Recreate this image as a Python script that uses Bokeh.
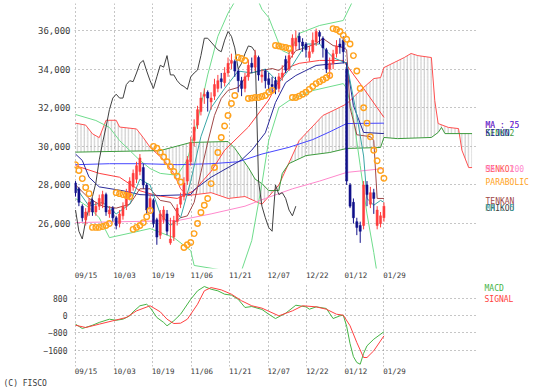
from bokeh.plotting import figure
from bokeh.layouts import column, row
from bokeh.models import Range1d, FixedTicker, NumeralTickFormatter, ColumnDataSource
from bokeh.core.properties import value
from bokeh.embed import file_html
from bokeh.resources import INLINE

# ---------------- data ----------------
date_labels = ["09/15", "10/03", "10/19", "11/06", "11/21", "12/07", "12/22", "01/12", "01/29"]

opens = [28100, 27800, 26900, 26200, 26600, 27200, 26600, 26900, 27000, 27500,
         26500, 26800, 26300, 26000, 26400, 26900, 27400, 27900, 28300, 28700,
         28900, 28000, 26800, 27200, 26200, 25400, 26200, 26500, 25000, 25300,
         26100, 27000, 27400, 28200, 29200, 30300, 31100, 31800, 32600, 32800,
         32300, 32600, 33000, 33500, 33300, 33800, 34300, 34400, 33900, 33400,
         33000, 33600, 34300, 34100, 34600, 33600, 33900, 33500, 33200, 33400,
         33000, 33600, 34500, 34000, 34800, 35200, 35700, 35400, 35300, 34600,
         34900, 35400, 35900, 35600, 35000, 34000, 34300, 34800, 35300, 35500,
         34000, 28000, 27100, 26100, 25900, 25900, 28000, 27000, 27600, 25900,
         26000, 26300]
closes = [27600, 27100, 26300, 26600, 27100, 26600, 26900, 27300, 27500, 26600,
          26700, 26300, 25900, 26500, 26900, 27600, 28200, 28600, 29000, 29400,
          28000, 26700, 27300, 26000, 25300, 26500, 26700, 25600, 25200, 26150,
          26800, 27400, 28100, 29300, 30200, 31000, 31900, 32500, 32700, 32500,
          32500, 33200, 33400, 33350, 33800, 34300, 34450, 33900, 33400, 33000,
          33600, 34200, 34100, 34700, 33700, 33700, 33400, 33200, 33100, 32950,
          33600, 33800, 33950, 34700, 35600, 35600, 35400, 35200, 35000, 34900,
          35500, 35950, 35700, 35100, 34000, 34300, 34800, 35200, 35150, 34900,
          28200, 26900, 26300, 25800, 25600, 28000, 27500, 27600, 27300, 26700,
          26400, 26900]
highs = [28200, 27900, 27000, 26800, 27300, 27300, 27100, 27500, 27700, 27600,
         26900, 26900, 26400, 26700, 27100, 27800, 28400, 28800, 29200, 29600,
         29100, 28100, 27500, 27300, 26300, 26700, 26900, 26700, 26300, 26400,
         27000, 27600, 28400, 29500, 30500, 31400, 32100, 32800, 33000, 32900,
         32800, 33500, 33700, 33800, 34100, 34600, 34800, 34500, 34000, 33600,
         33800, 34500, 34600, 35000, 34700, 34000, 34000, 33800, 33600, 33600,
         33800, 34200, 34700, 35000, 35800, 36000, 35900, 35600, 35400, 35200,
         35900, 36100, 36000, 35700, 35100, 34600, 35000, 35500, 35600, 35700,
         34300, 28100, 27300, 26300, 26100, 28200, 28200, 27900, 27800, 26900,
         26600, 27100]
lows = [27400, 26900, 26100, 25900, 26400, 26400, 26400, 26700, 26800, 26400,
        26300, 26100, 25700, 25800, 26200, 26700, 27200, 27700, 28100, 28500,
        27800, 26500, 26600, 25800, 24900, 25200, 26000, 25400, 24900, 25100,
        25900, 26800, 27200, 28000, 29000, 30000, 30900, 31600, 32200, 31800,
        31900, 32400, 32800, 33000, 33100, 33600, 34000, 33600, 32800, 32600,
        32800, 33400, 33800, 33900, 33400, 33300, 33000, 32900, 32800, 32700,
        32800, 33400, 33800, 33900, 34600, 35000, 35000, 34900, 34600, 34400,
        34800, 35200, 35300, 34600, 33800, 33500, 34000, 34600, 34800, 34300,
        28000, 26800, 26000, 25400, 25000, 25700, 26900, 26800, 26500, 25700,
        25800, 26100]

ma5_x = [0, 4, 8, 12, 16, 19, 22, 25, 28, 31, 34, 37, 40, 44, 48, 52, 56, 60, 64, 68, 72, 76, 80, 83, 85, 86, 88, 90, 91]
ma5 = [27900, 26900, 27100, 26500, 27000, 28300, 28000, 26500, 25900, 26300, 28200, 30500, 32000, 33000, 33900,
       33800, 34000, 33300, 34200, 35300, 35300, 34600, 34300, 31600, 29500, 27300, 26950, 27200, 27100]

ma_red_x = [0, 7, 13, 19, 24, 30, 35, 40, 44, 51, 57, 60, 63, 66, 72, 79, 85, 91]
ma_red = [29000, 28600, 28400, 27700, 27450, 27300, 27700, 28700, 29800, 31000, 32400, 33400, 34100, 34300,
          34450, 34450, 33000, 31500]

ma_blue_x = [0, 10, 20, 30, 40, 48, 55, 63, 70, 75, 80, 91]
ma_blue = [29050, 29100, 29100, 29050, 29100, 29200, 29600, 29950, 30350, 30750, 31180, 31200]

ma200_x = [0, 30, 40, 50, 56, 64, 72, 80, 91]
ma200 = [26050, 26150, 26500, 26900, 27300, 27800, 28200, 28650, 28850]

tenkan_x = [0, 4, 8, 12, 16, 19, 22, 25, 28, 31, 33, 35, 37, 39, 41, 43, 45, 48, 51, 55, 58, 60, 61, 63, 65,
            68, 71, 73, 76, 79, 80, 81, 83, 87, 88, 89, 91]
tenkan = [28000, 27300, 26900, 26800, 27000, 27800, 27800, 27200, 27100, 26300, 26400, 27100, 28650, 30200,
          31600, 32480, 32900, 33050, 33770, 33930, 34030, 33930, 34080, 34450, 34960, 35120, 35330, 35590,
          35220, 35120, 35000, 32000, 30600, 30500, 30300, 27300, 27300]

kijun_x = [0, 2, 4, 7, 14, 19, 25, 34, 35, 40, 45, 49, 52, 56, 59, 62, 65, 71, 80, 82, 85, 91]
kijun = [29600, 29270, 28400, 27900, 27700, 27500, 27450, 27500, 27750, 28400, 28900, 29300, 29800, 30700,
         32270, 33300, 33670, 34190, 34340, 32110, 30720, 30660]

senkou1_x = [0, 3, 5, 7, 9, 12, 13, 18, 20, 22, 26, 29, 31, 33, 40, 45, 50, 55, 60, 66, 73, 76, 80, 84, 88,
             90, 91, 94, 97, 99, 101, 105, 106, 107, 110, 113, 114, 116, 117]
senkou1 = [31200, 31100, 30650, 30450, 31350, 31350, 31000, 30900, 30450, 29950, 29300, 28600, 27800, 27450,
           27600, 27300, 27400, 27000, 28000, 30300, 31600, 31850, 32200, 32890, 33510, 33560, 34080, 34340,
           34600, 34810, 34700, 34600, 32370, 31180, 30980, 30920, 29800, 28900, 28900]

senkou2_x = [0, 25, 34, 45, 47, 51, 53, 55, 57, 60, 61, 63, 68, 75, 80, 90, 91, 95, 105, 107, 108, 109, 117]
senkou2 = [29700, 29780, 30200, 30250, 29900, 28900, 28300, 28070, 27710, 27710, 28590, 29110, 29520, 29680,
           29890, 29940, 30460, 30400, 30460, 30720, 30980, 30660, 30660]

bb_up_x = [0, 6, 10, 13, 19, 22, 25, 30, 33, 36, 39, 42, 45, 47, 50, 52, 54, 55, 57, 60, 61, 63, 66, 72, 79,
           82, 85]
bb_up = [31650, 31340, 30980, 30300, 29270, 28850, 28600, 28500, 29300, 31300, 33700, 35700, 36900, 37500,
         38600, 38600, 37500, 37100, 36670, 35330, 34960, 34800, 35850, 36260, 36520, 37600, 38600]
bb_lo_x = [0, 4, 7, 10, 17, 22, 29, 34, 35, 44, 49, 52, 55, 57, 60, 63, 70, 79, 80, 82, 84, 86, 88, 89]
bb_lo = [27300, 26830, 26300, 25270, 25540, 25740, 25270, 24600, 23830, 23570, 23570, 25120, 28070, 30300,
         32010, 32370, 32890, 33250, 33000, 31500, 29000, 26500, 24500, 23400]

sar_x = [0, 1, 2, 3, 4,
         5, 6, 7, 8, 9, 10,
         12, 13, 14, 15, 16,
         17, 18, 19, 20, 21, 22,
         23, 24, 25, 26, 27, 28, 29, 30, 31,
         32, 33, 34, 35, 36, 37, 38, 39, 40, 41, 42, 43, 44, 45, 46, 47,
         48, 49, 50,
         51, 52, 53, 54, 55, 56, 57, 58,
         59, 60, 61, 62, 63,
         64, 65, 66, 67, 68, 69, 70, 71, 72, 73, 74, 75,
         76, 77, 78, 79, 80, 81, 82, 83, 84, 85, 86, 87, 88, 89, 90, 91]
sar = [29050, 28750, 28330, 27870, 27550,
       25800, 25800, 25800, 25850, 25900, 26000,
       27600, 27550, 27500, 27450, 27400,
       25700, 25800, 25900, 26050, 26350, 26680,
       30000, 29900, 29700, 29450, 29200, 28950, 28700, 28450, 28150,
       24760, 24900, 25020, 25480, 26000, 26570, 26950, 27300, 28070, 28900, 29680, 30460, 31050, 31600, 32220,
       32630,
       34600, 34550, 34450,
       32480, 32500, 32530, 32530, 32580, 32630, 32800, 32900,
       35220, 35200, 35150, 35120, 35070,
       32530, 32530, 32600, 32700, 32800, 32950, 33100, 33250, 33350, 33450, 33550, 33670,
       36100, 36050, 35950, 35750, 35550, 35300, 34700, 33900, 33000, 32000, 31200, 30500, 29800, 29250,
       28750, 28350]

macd_x = [0, 2, 5, 7, 10, 12, 14, 16, 17, 19, 21, 22, 24, 26, 27, 29, 31, 34, 36, 38, 40, 42, 44, 46, 48, 50,
          52, 55, 57, 59, 62, 65, 68, 69, 71, 74, 76, 78, 79, 80, 81, 82, 83, 84, 85, 86, 88, 91]
macd = [-400, -600, -450, -320, -170, -220, -170, -15, 170, 450, 520, 370, -90, -320, -475, -245, 60, 750,
        1140, 1340, 1215, 1140, 985, 940, 750, 370, 415, 280, 60, -140, 105, 475, 400, 290, 400, 325, -140,
        -15, 15, -500, -1300, -1900, -2170, -2250, -1750, -1400, -1095, -750]
signal_x = [0, 3, 7, 11, 15, 18, 22, 25, 27, 29, 31, 33, 36, 38, 40, 43, 46, 49, 52, 55, 60, 64, 67, 71, 74,
            77, 79, 81, 83, 85, 86, 88, 91]
signal = [-450, -555, -400, -245, -90, 215, 450, 170, -170, -370, -355, -170, 520, 1140, 1290, 1185, 985, 680,
          450, 340, -15, 215, 450, 400, 290, 60, 15, -475, -1250, -1940, -1940, -1630, -940]

price_ticks = [26000, 28000, 30000, 32000, 34000, 36000]
macd_ticks = [-1600, -800, 0, 800]

legend_texts = ["MA : 75", "MA : 25", "SENKO2", "KIJUN", "SENKO1", "MA : 200", "PARABOLIC",
                "TENKAN", "CHIKOU", "MA : 5", "MACD", "SIGNAL"]

# ---------------- styling ----------------
N = len(closes)
bars = list(range(N))
SHIFT = 26
step = (N - 1) / 8
date_pos = [k * step for k in range(len(date_labels))]
LABEL_OFF = 3.1                       # date labels start at their grid line
label_pos = [d + LABEL_OFF for d in date_pos]

MONO = "DejaVu Sans Mono"
TXT = "#3a3a3a"
GRID = "#8c8c8c"
UP = "#ff3c3c"
DOWN = "#10108a"
C_RED = "#ff4040"
C_BLUE = "#4646ff"
C_MA200 = "#ff88cc"
C_MA5 = "#3aa6a6"
C_S1 = "#ff5050"
C_S2 = "#3c9a3c"
C_KIJUN = "#2a2a9a"
C_TENKAN = "#a04848"
C_CHIKOU = "#404040"
C_BB = "#6fdc8c"
C_SAR = "#ffa21c"
C_MACD = "#46b446"
C_SIG = "#ff4040"

xr = Range1d(-0.3, 118.9)


def style(p, yticks):
    p.outline_line_color = None
    p.background_fill_color = "white"
    p.border_fill_color = "white"
    p.xgrid.ticker = FixedTicker(ticks=date_pos)
    p.ygrid.ticker = FixedTicker(ticks=yticks)
    for g in (p.xgrid, p.ygrid):
        g.grid_line_color = GRID
        g.grid_line_dash = "1 3"
        g.grid_line_width = 1
    p.yaxis.ticker = FixedTicker(ticks=yticks)
    for ax in (p.xaxis, p.yaxis):
        ax.axis_line_color = None
        ax.major_tick_line_color = None
        ax.minor_tick_line_color = None
        ax.major_tick_out = 0
        ax.major_tick_in = 0
        ax.minor_tick_out = 0
        ax.minor_tick_in = 0
        ax.major_label_text_font = MONO
        ax.major_label_text_color = TXT
    p.xaxis.ticker = FixedTicker(ticks=label_pos)
    p.xaxis.major_label_overrides = {t: lab for t, lab in zip(label_pos, date_labels)}
    p.xaxis.major_label_text_font_size = "7.5px"


# ---------------- main panel ----------------
p1 = figure(frame_width=404, frame_height=265, x_range=xr, y_range=Range1d(23672, 37399),
            output_backend="svg", toolbar_location=None,
            min_border_left=74, min_border_right=0, min_border_top=3, min_border_bottom=12)
style(p1, price_ticks)
p1.yaxis.formatter = NumeralTickFormatter(format="0,0")
p1.yaxis.major_label_text_font_size = "9px"
p1.yaxis.major_label_standoff = 4
p1.xaxis.major_label_standoff = 2

cloud_x = senkou1_x + senkou2_x[::-1]
cloud_y = senkou1 + senkou2[::-1]
p1.patch(cloud_x, cloud_y, fill_alpha=0, line_alpha=0,
         hatch_pattern="vertical_line", hatch_color="#b4b4b4", hatch_scale=3.4, hatch_weight=0.8)

p1.line(senkou1_x, senkou1, color=C_S1, line_width=1)
p1.line(senkou2_x, senkou2, color=C_S2, line_width=1)
p1.line(bb_up_x, bb_up, color=C_BB, line_width=1)
p1.line(bb_lo_x, bb_lo, color=C_BB, line_width=1)
p1.line(ma200_x, ma200, color=C_MA200, line_width=1)
p1.line(ma_blue_x, ma_blue, color=C_BLUE, line_width=1)
p1.line(ma_red_x, ma_red, color=C_RED, line_width=1)
p1.line(kijun_x, kijun, color=C_KIJUN, line_width=1)
p1.line(tenkan_x, tenkan, color=C_TENKAN, line_width=1)
p1.line(ma5_x, ma5, color=C_MA5, line_width=1)
p1.line([b - SHIFT for b in bars[SHIFT:]], closes[SHIFT:], color=C_CHIKOU, line_width=1)

up = [i for i in bars if closes[i] >= opens[i]]
dn = [i for i in bars if closes[i] < opens[i]]
for sel, col in ((up, UP), (dn, DOWN)):
    p1.segment(x0=sel, y0=[lows[i] for i in sel], x1=sel, y1=[highs[i] for i in sel], color=col, line_width=1)
    p1.vbar(x=sel, width=0.62, top=[max(opens[i], closes[i]) for i in sel],
            bottom=[min(opens[i], closes[i]) for i in sel], fill_color=col, line_color=col, line_width=0.5)

p1.scatter(sar_x, sar, marker="circle", size=5.5, fill_color=None, line_color=C_SAR, line_width=1.4)

# ---------------- MACD panel ----------------
p2 = figure(frame_width=404, frame_height=84, x_range=xr, y_range=Range1d(-2356, 1525),
            output_backend="svg", toolbar_location=None,
            min_border_left=74, min_border_right=0, min_border_top=0, min_border_bottom=10)
style(p2, macd_ticks)
p2.yaxis.major_label_text_font_size = "8px"
p2.yaxis.major_label_standoff = 7
p2.xaxis.major_label_standoff = 0
p2.line(macd_x, macd, color=C_MACD, line_width=1)
p2.line(signal_x, signal, color=C_SIG, line_width=1)

# ---------------- legend column (right margin) ----------------
leg = figure(width=58, height=374, x_range=Range1d(478, 536), y_range=Range1d(374, 0),
             output_backend="svg", toolbar_location=None, min_border=0,
             x_axis_location=None, y_axis_location=None)
leg.grid.visible = False
leg.outline_line_color = None
leg_src = ColumnDataSource(dict(
    x=[485, 485, 485, 485, 485, 485, 485, 485, 485, 485, 484, 484],
    y=[125, 125, 133, 133, 169, 169, 182, 201, 208, 208, 288, 299],
    text=legend_texts,
    color=[C_RED, C_BLUE, C_S2, C_KIJUN, C_S1, C_MA200, C_SAR, C_TENKAN, C_CHIKOU, C_MA5, C_MACD, C_SIG],
))
leg.text(x="x", y="y", text="text", text_color="color", source=leg_src, text_font=value(MONO),
         text_font_size=value("8px"), text_baseline="middle", text_align="left")

# ---------------- footer (copyright) ----------------
foot = figure(width=536, height=15, x_range=Range1d(0, 536), y_range=Range1d(389, 374),
              output_backend="svg", toolbar_location=None, min_border=0,
              x_axis_location=None, y_axis_location=None)
foot.grid.visible = False
foot.outline_line_color = None
foot.text(x=[3], y=[379], text=["(C) FISCO"], text_font=value(MONO), text_font_size=value("8px"),
          text_color=TXT, text_baseline="middle", text_align="left")

layout = column(row(column(p1, p2), leg), foot)
open("out.html", "w").write(file_html(layout, INLINE))
